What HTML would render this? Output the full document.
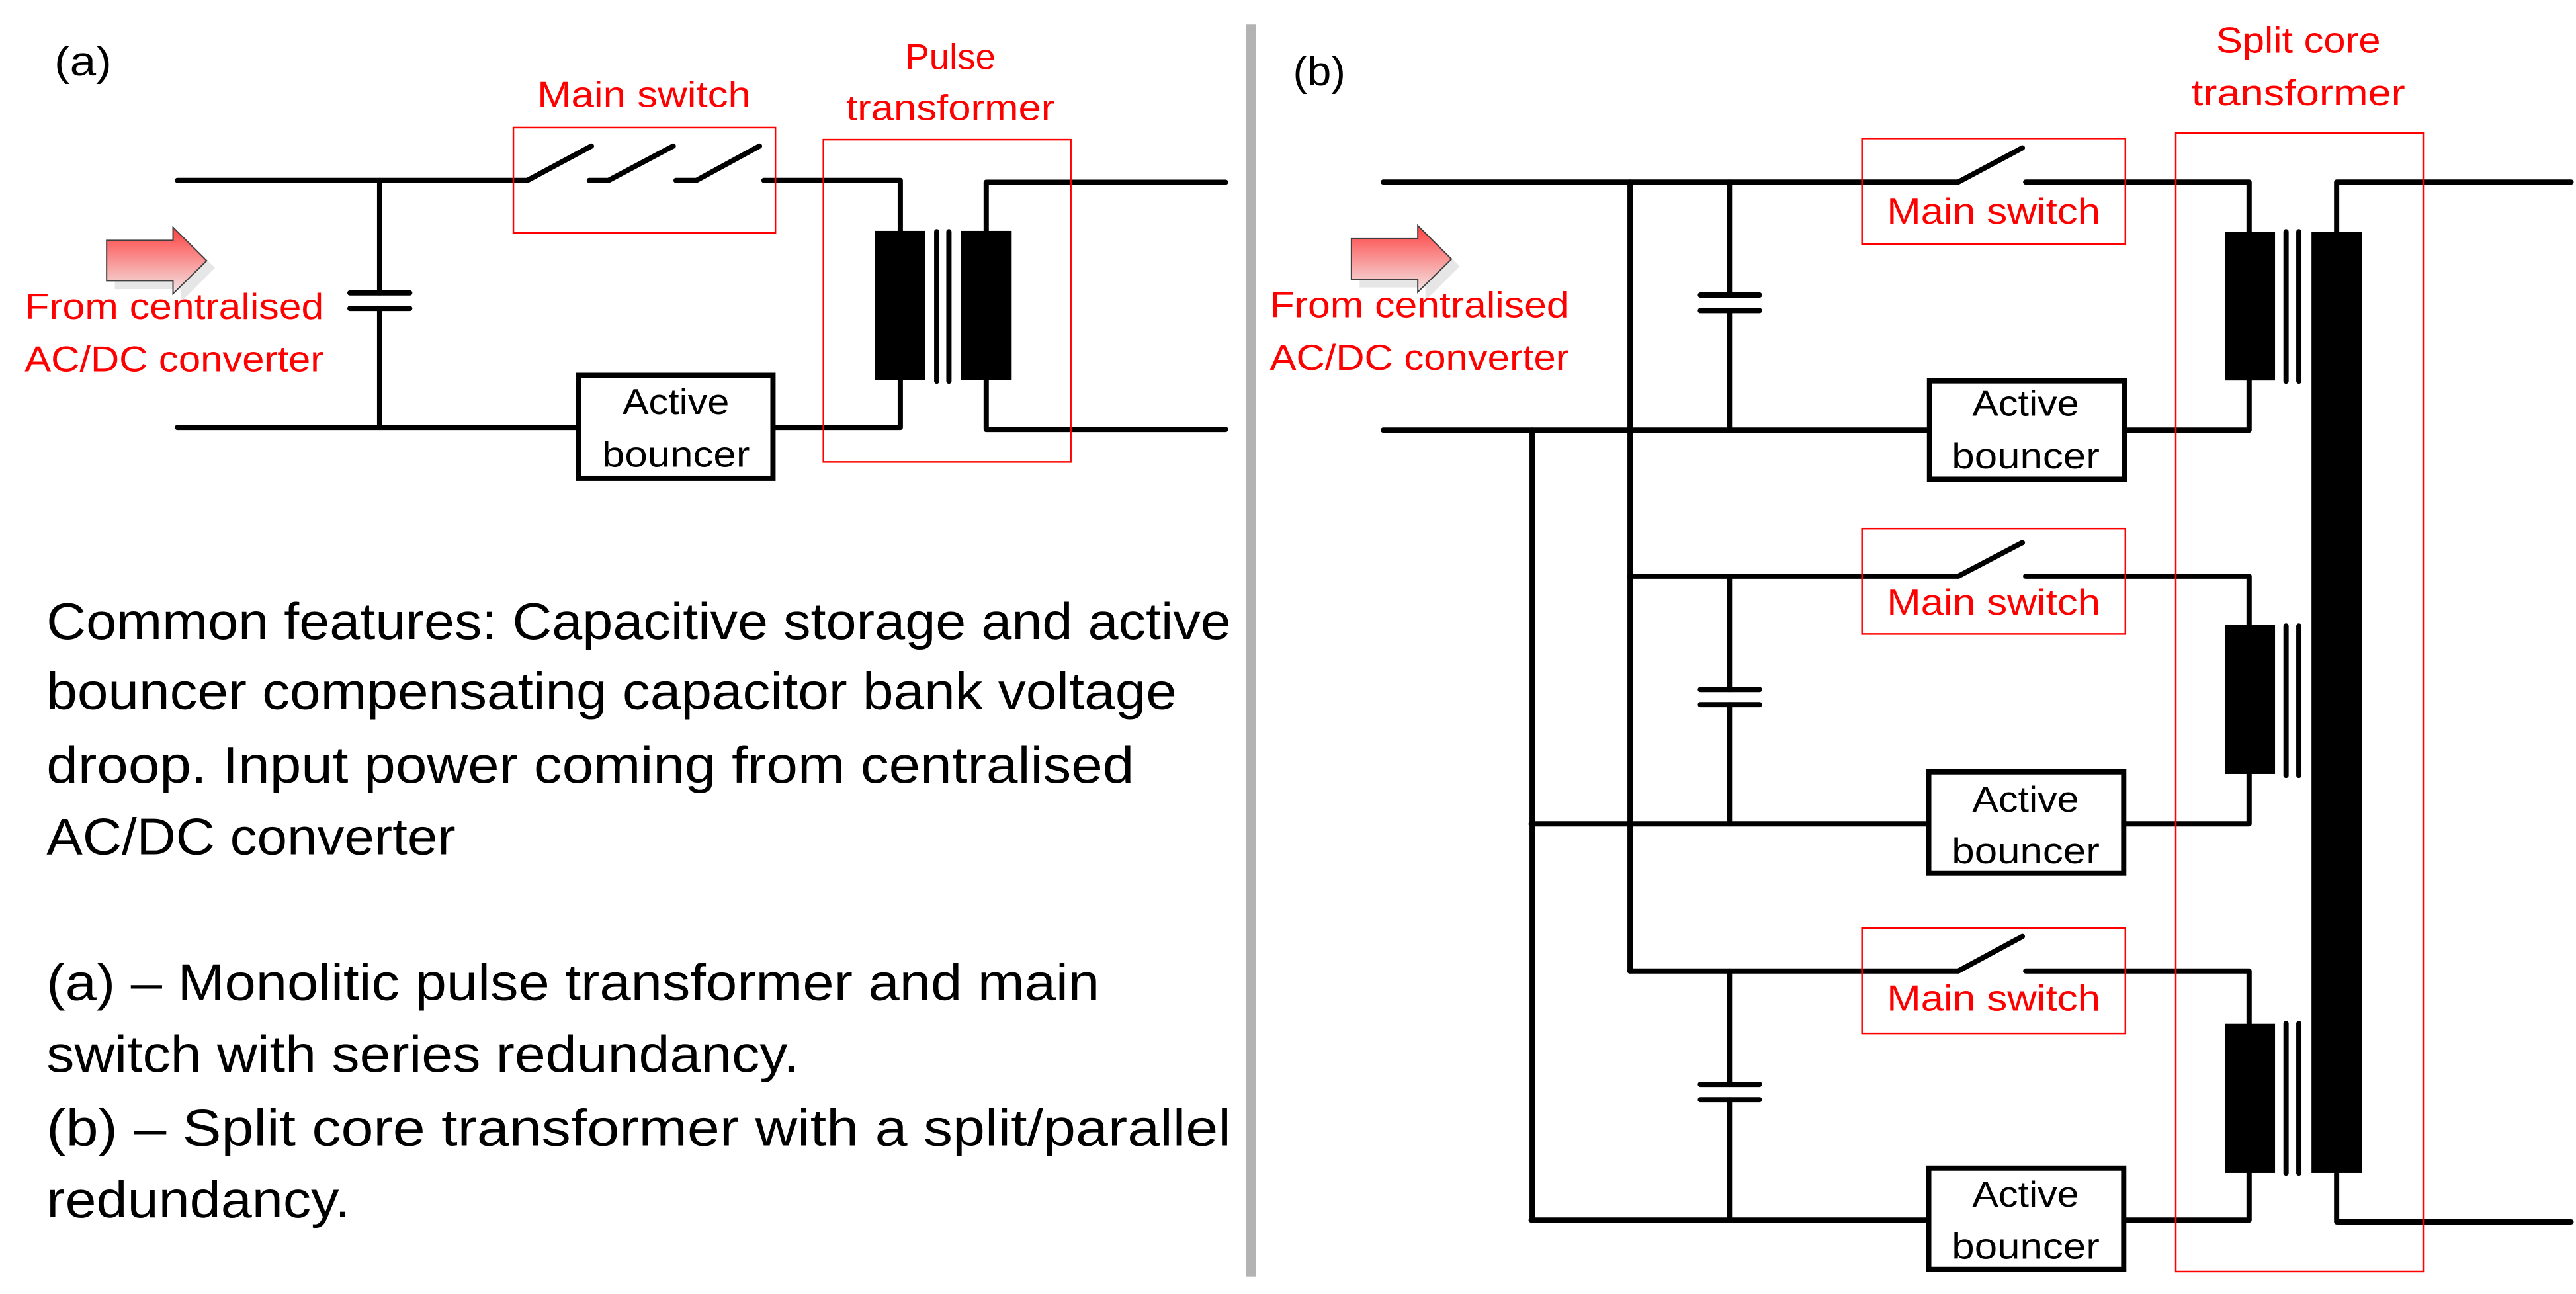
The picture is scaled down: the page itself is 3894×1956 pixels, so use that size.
<!DOCTYPE html>
<html><head><meta charset="utf-8"><style>
html,body{margin:0;padding:0;background:#fff;width:3894px;height:1956px;overflow:hidden}
svg{display:block}
text{font-family:"Liberation Sans",sans-serif}
.r{fill:#ff0000;font-size:22px}
.k{fill:#000;font-size:22px}
.p{fill:#000;font-size:31.5px}
.lab{fill:#000;font-size:25px}
</style></head><body>
<svg width="3894" height="1956" viewBox="0 0 1568 787.6" preserveAspectRatio="none" xmlns="http://www.w3.org/2000/svg">
<defs>
<linearGradient id="g" x1="0" y1="0" x2="0" y2="1">
<stop offset="0" stop-color="#ff4040"/><stop offset="1" stop-color="#f3e6e6"/>
</linearGradient>
<g id="arrow">
<polygon points="5,151 45,151 45,143 66,163 45,184 45,176 5,176" fill="#e6e6e6"/>
<polygon points="0,146.3 40.4,146.3 40.4,138.3 60.9,158.7 40.4,178.8 40.4,170.9 0,170.9" fill="url(#g)" stroke="#404040" stroke-width="0.8"/>
</g>
</defs>
<rect width="1568" height="787.6" fill="#fff"/>
<rect x="758.5" y="15" width="6" height="762" fill="#b3b3b3"/>

<!-- PANEL A -->
<text x="33" y="46" class="lab" textLength="35" lengthAdjust="spacingAndGlyphs">(a)</text>
<g stroke="#000" stroke-width="3.2" fill="none" stroke-linecap="round" stroke-linejoin="round">
<polyline points="108,109.8 321,109.8 360,88.9"/>
<polyline points="358.7,109.8 370.4,109.8 409.8,88.9"/>
<polyline points="411.5,109.8 423.9,109.8 462.3,88.9"/>
<polyline points="465,109.8 548,109.8 548,141"/>
<polyline points="600.3,141 600.3,110.9 746,110.9"/>
<polyline points="600.3,231 600.3,261.4 746,261.4"/>
<polyline points="472,260.2 548,260.2 548,231"/>
<line x1="108" y1="260.2" x2="351" y2="260.2"/>
<line x1="231.1" y1="109.8" x2="231.1" y2="178.3"/>
<line x1="231.1" y1="187.7" x2="231.1" y2="260.2"/>
<line x1="213" y1="178.3" x2="249.4" y2="178.3"/>
<line x1="213" y1="187.7" x2="249.4" y2="187.7"/>
<line x1="570.2" y1="141" x2="570.2" y2="232"/>
<line x1="577.6" y1="141" x2="577.6" y2="232"/>
</g>
<rect x="532.4" y="140.5" width="30.7" height="91" fill="#000"/>
<rect x="584.8" y="140.5" width="31" height="91" fill="#000"/>
<rect x="352.3" y="228.5" width="118.2" height="62.6" fill="#fff" stroke="#000" stroke-width="3.2"/>
<text x="411.4" y="252" class="k" text-anchor="middle" textLength="65" lengthAdjust="spacingAndGlyphs">Active</text>
<text x="411.4" y="284" class="k" text-anchor="middle" textLength="90" lengthAdjust="spacingAndGlyphs">bouncer</text>
<rect x="312.5" y="77.7" width="159.5" height="64" fill="none" stroke="#ff0000" stroke-width="1"/>
<rect x="501.2" y="85" width="150.6" height="196.2" fill="none" stroke="#ff0000" stroke-width="1"/>
<text x="392" y="65" class="r" text-anchor="middle" textLength="130" lengthAdjust="spacingAndGlyphs">Main switch</text>
<text x="578.5" y="42" class="r" text-anchor="middle" textLength="55" lengthAdjust="spacingAndGlyphs">Pulse</text>
<text x="578.5" y="73" class="r" text-anchor="middle" textLength="127" lengthAdjust="spacingAndGlyphs">transformer</text>
<use href="#arrow" x="64.9"/>
<text x="15" y="194" class="r" textLength="182" lengthAdjust="spacingAndGlyphs">From centralised</text>
<text x="15" y="226" class="r" textLength="182" lengthAdjust="spacingAndGlyphs">AC/DC converter</text>

<text x="28.3" y="389" class="p" textLength="721" lengthAdjust="spacingAndGlyphs">Common features: Capacitive storage and active</text>
<text x="28.3" y="431.5" class="p" textLength="688" lengthAdjust="spacingAndGlyphs">bouncer compensating capacitor bank voltage</text>
<text x="28.3" y="476.4" class="p" textLength="662" lengthAdjust="spacingAndGlyphs">droop. Input power coming from centralised</text>
<text x="28.3" y="520" class="p" textLength="249" lengthAdjust="spacingAndGlyphs">AC/DC converter</text>
<text x="28.3" y="608.6" class="p" textLength="641" lengthAdjust="spacingAndGlyphs">(a) – Monolitic pulse transformer and main</text>
<text x="28.3" y="652.3" class="p" textLength="458" lengthAdjust="spacingAndGlyphs">switch with series redundancy.</text>
<text x="28.3" y="697.3" class="p" textLength="721" lengthAdjust="spacingAndGlyphs">(b) – Split core transformer with a split/parallel</text>
<text x="28.3" y="740.9" class="p" textLength="185" lengthAdjust="spacingAndGlyphs">redundancy.</text>

<!-- PANEL B -->
<text x="787" y="52" class="lab" textLength="32" lengthAdjust="spacingAndGlyphs">(b)</text>
<g stroke="#000" stroke-width="3.2" fill="none" stroke-linecap="round" stroke-linejoin="round">
<polyline points="842,110.8 1192,110.8 1231,90"/>
<polyline points="1233,110.8 1369,110.8 1369,141"/>
<line x1="842" y1="261.8" x2="1173" y2="261.8"/>
<polyline points="1294,261.8 1369,261.8 1369,231"/>
<polyline points="992,350.7 1192,350.7 1231,330.3"/>
<polyline points="1233,350.7 1369,350.7 1369,381"/>
<line x1="932" y1="501.4" x2="1173" y2="501.4"/>
<polyline points="1294,501.4 1369,501.4 1369,471"/>
<polyline points="992,591 1192,591 1231,570"/>
<polyline points="1233,591 1369,591 1369,623"/>
<line x1="932" y1="742.6" x2="1173" y2="742.6"/>
<polyline points="1294,742.6 1369,742.6 1369,713"/>
<line x1="992.2" y1="110.8" x2="992.2" y2="591"/>
<line x1="932.6" y1="261.8" x2="932.6" y2="742.6"/>
<line x1="1052.7" y1="110.8" x2="1052.7" y2="179.6"/>
<line x1="1052.7" y1="189" x2="1052.7" y2="261.8"/>
<line x1="1035" y1="179.6" x2="1071" y2="179.6"/>
<line x1="1035" y1="189" x2="1071" y2="189"/>
<line x1="1052.7" y1="350.7" x2="1052.7" y2="419.7"/>
<line x1="1052.7" y1="428.9" x2="1052.7" y2="501.4"/>
<line x1="1035" y1="419.7" x2="1071" y2="419.7"/>
<line x1="1035" y1="428.9" x2="1071" y2="428.9"/>
<line x1="1052.7" y1="591" x2="1052.7" y2="660"/>
<line x1="1052.7" y1="669.3" x2="1052.7" y2="742.6"/>
<line x1="1035" y1="660" x2="1071" y2="660"/>
<line x1="1035" y1="669.3" x2="1071" y2="669.3"/>
<line x1="1391.5" y1="141" x2="1391.5" y2="232"/>
<line x1="1399.3" y1="141" x2="1399.3" y2="232"/>
<line x1="1391.5" y1="381" x2="1391.5" y2="472"/>
<line x1="1399.3" y1="381" x2="1399.3" y2="472"/>
<line x1="1391.5" y1="623" x2="1391.5" y2="714"/>
<line x1="1399.3" y1="623" x2="1399.3" y2="714"/>
<polyline points="1422.3,141 1422.3,110.8 1565,110.8"/>
<polyline points="1422.3,713 1422.3,743.7 1565,743.7"/>
</g>
<rect x="1354.2" y="141" width="30.6" height="90.6" fill="#000"/>
<rect x="1354.2" y="380.5" width="30.6" height="90.6" fill="#000"/>
<rect x="1354.2" y="623.2" width="30.6" height="90.7" fill="#000"/>
<rect x="1407" y="141" width="30.7" height="572.9" fill="#000"/>

<rect x="1174.5" y="231.8" width="118.7" height="59.9" fill="#fff" stroke="#000" stroke-width="3.2"/>
<rect x="1174" y="469.8" width="118.7" height="61.6" fill="#fff" stroke="#000" stroke-width="3.2"/>
<rect x="1174" y="711" width="118.7" height="61.6" fill="#fff" stroke="#000" stroke-width="3.2"/>
<text x="1233" y="253" class="k" text-anchor="middle" textLength="65" lengthAdjust="spacingAndGlyphs">Active</text>
<text x="1233" y="285" class="k" text-anchor="middle" textLength="90" lengthAdjust="spacingAndGlyphs">bouncer</text>
<text x="1233" y="494" class="k" text-anchor="middle" textLength="65" lengthAdjust="spacingAndGlyphs">Active</text>
<text x="1233" y="525.5" class="k" text-anchor="middle" textLength="90" lengthAdjust="spacingAndGlyphs">bouncer</text>
<text x="1233" y="734.5" class="k" text-anchor="middle" textLength="65" lengthAdjust="spacingAndGlyphs">Active</text>
<text x="1233" y="766" class="k" text-anchor="middle" textLength="90" lengthAdjust="spacingAndGlyphs">bouncer</text>

<rect x="1133.4" y="84.3" width="160.3" height="64.2" fill="none" stroke="#ff0000" stroke-width="1"/>
<rect x="1133.4" y="321.8" width="160.3" height="64.1" fill="none" stroke="#ff0000" stroke-width="1"/>
<rect x="1133.4" y="565" width="160.3" height="64" fill="none" stroke="#ff0000" stroke-width="1"/>
<text x="1213.5" y="136" class="r" text-anchor="middle" textLength="130" lengthAdjust="spacingAndGlyphs">Main switch</text>
<text x="1213.5" y="374" class="r" text-anchor="middle" textLength="130" lengthAdjust="spacingAndGlyphs">Main switch</text>
<text x="1213.5" y="615" class="r" text-anchor="middle" textLength="130" lengthAdjust="spacingAndGlyphs">Main switch</text>
<rect x="1324.4" y="81" width="150.6" height="692.9" fill="none" stroke="#ff0000" stroke-width="1"/>
<text x="1399" y="32" class="r" text-anchor="middle" textLength="100" lengthAdjust="spacingAndGlyphs">Split core</text>
<text x="1399" y="64" class="r" text-anchor="middle" textLength="130" lengthAdjust="spacingAndGlyphs">transformer</text>
<use href="#arrow" x="822.6" y="-1"/>
<text x="773" y="193" class="r" textLength="182" lengthAdjust="spacingAndGlyphs">From centralised</text>
<text x="773" y="225" class="r" textLength="182" lengthAdjust="spacingAndGlyphs">AC/DC converter</text>
</svg>
</body></html>
